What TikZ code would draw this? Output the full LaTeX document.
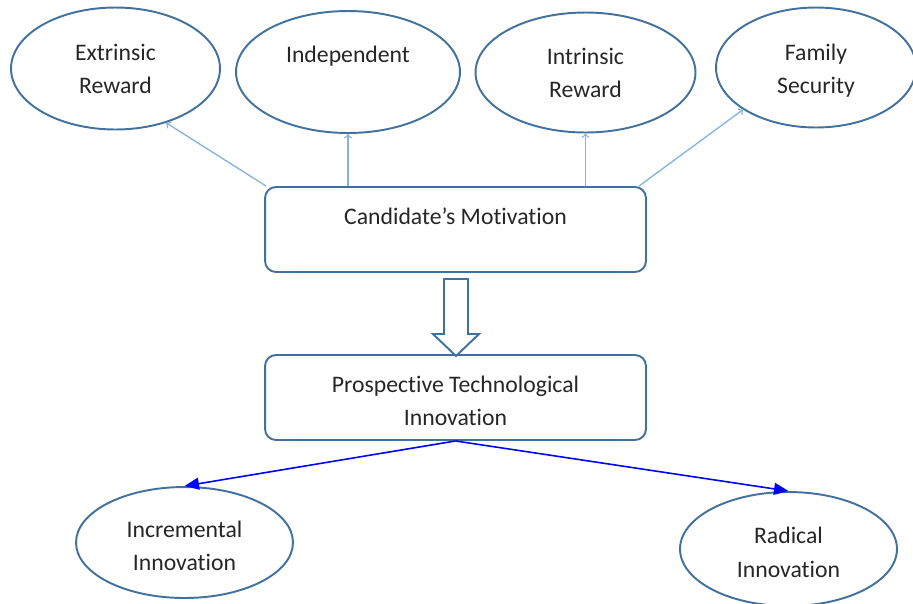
\documentclass[tikz,border=0pt]{standalone}
\usepackage{fontspec}
\setmainfont{Carlito}[Ligatures=NoCommon]
\usetikzlibrary{arrows,shapes,calc}
\definecolor{edge}{HTML}{41719C}
\definecolor{lightedge}{HTML}{86B2DE}
\definecolor{pureblue}{HTML}{0000FF}

\begin{document}
\begin{tikzpicture}[x=0.02cm,y=-0.02cm]
\useasboundingbox (0,0) rectangle (913,603);

\tikzstyle{oval}=[draw=edge,line width=1.1pt,ellipse,inner sep=0pt,align=center,text=black!85,font=\fontsize{13.5}{18.8}\selectfont]
\tikzstyle{box}=[draw=edge,line width=1.1pt,rectangle,rounded corners=0.22cm,minimum width=7.62cm,minimum height=1.7cm,inner sep=0pt,align=center,text=black!85,font=\fontsize{13.5}{18.8}\selectfont]
\tikzstyle{thin}=[-to,draw=lightedge,line width=0.75pt]
\tikzstyle{bold}=[-triangle 45,draw=pureblue,line width=0.9pt]

\node[oval,minimum width=4.18cm,minimum height=2.44cm] (ext) at (115.5,68.5) {Extrinsic\\Reward};
\node[oval,minimum width=4.48cm,minimum height=2.44cm] (ind) at (348,72) {\strut Independent\\\strut};
\node[oval,minimum width=4.4cm,minimum height=2.4cm] (intr) at (585.5,72.5) {Intrinsic\\Reward};
\node[oval,minimum width=4.0cm,minimum height=2.4cm] (fam) at (816,67.5) {\strut Family\\Security};

\node[box] (mot) at (455.5,229.5) {\strut Candidate’s Motivation\\\mbox{}};
\node[box] (inn) at (455.5,397.5) {\strut Prospective Technological\\Innovation};

\node[oval,minimum width=4.34cm,minimum height=2.22cm] (inc) at (184.5,542.5) {\strut Incremental\\Innovation};
\node[oval,minimum width=4.34cm,minimum height=2.28cm] (rad) at (788.5,549) {\strut Radical\\Innovation};

\draw[thin] ($(mot.north west)+(2,0)$) -- (ext.-47);
\draw[thin] (ind.south |- mot.north) -- (ind.south);
\draw[thin] (intr.south |- mot.north) -- (intr.south);
\draw[thin] ($(mot.north east)+(-8,0)$) -- (fam.210);

\draw[draw=edge,fill=white,line width=1.1pt] (444,279) -- (468,279) -- (468,334) -- (479,334)
  -- (456,356) -- (433,334) -- (444,334) -- cycle;

\draw[bold] (inn.south) -- (inc.north);
\draw[bold] (inn.south) -- (rad.north);
\end{tikzpicture}
\end{document}
